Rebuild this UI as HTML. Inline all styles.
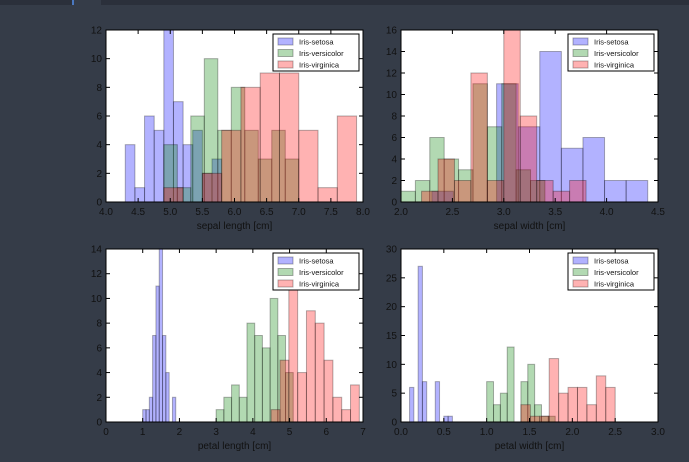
<!DOCTYPE html>
<html><head><meta charset="utf-8"><style>
html,body{margin:0;padding:0;background:#353c48;}
svg{display:block;font-family:"Liberation Sans",sans-serif;}
</style></head><body>
<svg id="c" width="689" height="462">
<rect x="0" y="0" width="689" height="5" fill="#2b303b"/>
<rect x="73" y="0" width="28" height="5" fill="#353c48"/>
<rect x="72" y="0" width="2" height="5" fill="#4a78c0"/>
</svg>
<script>
// sepal length
const slSetosa=[4,1,6,5,12,7,4,5,2,3];
const slVersicolor=[4,1,6,10,5,8,5,3,5,3];
const slVirginica=[1,0,2,5,8,9,9,5,1,6];
// sepal width
const swSetosa=[1,0,0,11,7,14,5,6,2,2];
const swVersicolor=[1,2,6,4,3,11,7,11,3,2];
const swVirginica=[1,4,2,12,2,16,8,2,1,2];
// petal length
const plSetosa=[1,1,2,7,11,14,7,4,0,2];
const plVersicolor=[1,2,3,2,8,7,6,10,7,4];
const plVirginica=[1,5,11,4,9,8,5,2,1,3];
// petal width
const pwSetosa=[6,0,27,7,0,0,7,0,1,1];
const pwVersicolor=[7,3,5,13,0,7,10,3,1,1];
const pwVirginica=[3,1,1,11,5,6,6,3,8,6];
// bin ranges [min,max] per species
const slRanges=[[4.3,5.8],[4.9,7.0],[4.9,7.9]];
const swRanges=[[2.3,4.4],[2.0,3.4],[2.2,3.8]];
const plRanges=[[1.0,1.9],[3.0,5.1],[4.5,6.9]];
const pwRanges=[[0.1,0.6],[1.0,1.8],[1.4,2.5]];
const species=["Iris-setosa","Iris-versicolor","Iris-virginica"];

const NS="http://www.w3.org/2000/svg";
const svg=document.getElementById('c');
function mk(tag,attrs,parent){const e=document.createElementNS(NS,tag);for(const k in attrs)e.setAttribute(k,attrs[k]);(parent||svg).appendChild(e);return e;}
const fills=["rgba(0,0,255,0.3)","rgba(0,128,0,0.3)","rgba(255,0,0,0.3)"];
const panels=[
 {key:"sepal-length",x0:106,x1:363,y0:30,y1:202,xmin:4,xmax:8,xticks:["4.0","4.5","5.0","5.5","6.0","6.5","7.0","7.5","8.0"],ymax:12,ystep:2,label:"sepal length [cm]",data:[slSetosa,slVersicolor,slVirginica],ranges:slRanges},
 {key:"sepal-width",x0:401,x1:658,y0:30,y1:202,xmin:2,xmax:4.5,xticks:["2.0","2.5","3.0","3.5","4.0","4.5"],ymax:16,ystep:2,label:"sepal width [cm]",data:[swSetosa,swVersicolor,swVirginica],ranges:swRanges},
 {key:"petal-length",x0:106,x1:363,y0:249,y1:422,xmin:0,xmax:7,xticks:["0","1","2","3","4","5","6","7"],ymax:14,ystep:2,label:"petal length [cm]",data:[plSetosa,plVersicolor,plVirginica],ranges:plRanges},
 {key:"petal-width",x0:401,x1:658,y0:249,y1:422,xmin:0,xmax:3,xticks:["0.0","0.5","1.0","1.5","2.0","2.5","3.0"],ymax:30,ystep:5,label:"petal width [cm]",data:[pwSetosa,pwVersicolor,pwVirginica],ranges:pwRanges}
];
panels.forEach(p=>{
 const g=mk('g',{});
 
 
 const bg=mk('rect',{x:p.x0,y:p.y0,width:p.x1-p.x0,height:p.y1-p.y0,fill:"#fff"},g);
 
 
 const X=v=>p.x0+(v-p.xmin)/(p.xmax-p.xmin)*(p.x1-p.x0);
 const Y=v=>p.y1-v/p.ymax*(p.y1-p.y0);
 p.data.forEach((arr,s)=>{
  const [a,b]=p.ranges[s];const w=(b-a)/arr.length;
  arr.forEach((v,i)=>{
   if(v<=0)return;
   const r=mk('rect',{x:X(a+i*w),y:Y(v),width:X(a+(i+1)*w)-X(a+i*w),height:Y(0)-Y(v),fill:fills[s],stroke:"rgba(0,0,0,0.3)","stroke-width":1},g);
   
   
  });
 });
 // frame
 const fr=mk('rect',{x:p.x0,y:p.y0,width:p.x1-p.x0,height:p.y1-p.y0,fill:"none",stroke:"#000","stroke-width":1},g);
 
 
 // x ticks
 p.xticks.forEach(t=>{
  const x=X(parseFloat(t));
  mk('line',{x1:x,x2:x,y1:p.y1,y2:p.y1-4,stroke:"#000"},g);
  mk('line',{x1:x,x2:x,y1:p.y0,y2:p.y0+4,stroke:"#000"},g);
  const tx=mk('text',{x:x,y:p.y1+13,"text-anchor":"middle","font-size":10,fill:"#111"},g);
  tx.textContent=t;
  
  
 });
 for(let v=0;v<=p.ymax;v+=p.ystep){
  const y=Y(v);
  mk('line',{x1:p.x0,x2:p.x0+4,y1:y,y2:y,stroke:"#000"},g);
  mk('line',{x1:p.x1,x2:p.x1-4,y1:y,y2:y,stroke:"#000"},g);
  const ty=mk('text',{x:p.x0-4,y:y+3.5,"text-anchor":"end","font-size":10,fill:"#111"},g);
  ty.textContent=String(v);
  
  
 }
 const xl=mk('text',{x:(p.x0+p.x1)/2,y:p.y1+27,"text-anchor":"middle","font-size":10,fill:"#111"},g);
 xl.textContent=p.label;
 
 
 // legend
 const lg=mk('g',{},g);
 
 
 const lx=p.x1-90,ly=p.y0+4;
 mk('rect',{x:lx,y:ly,width:86,height:37,fill:"#fff",stroke:"#000","stroke-width":1},lg);
 species.forEach((sp,s)=>{
  const e=mk('g',{},lg);
  
  
  mk('rect',{x:lx+5,y:ly+4+s*11.5,width:15,height:7,fill:fills[s],stroke:"rgba(0,0,0,0.3)"},e);
  const t=mk('text',{x:lx+26,y:ly+10.5+s*11.5,"font-size":7.5,fill:"#111"},e);
  t.textContent=sp;
 });
});
</script>
</body></html>
